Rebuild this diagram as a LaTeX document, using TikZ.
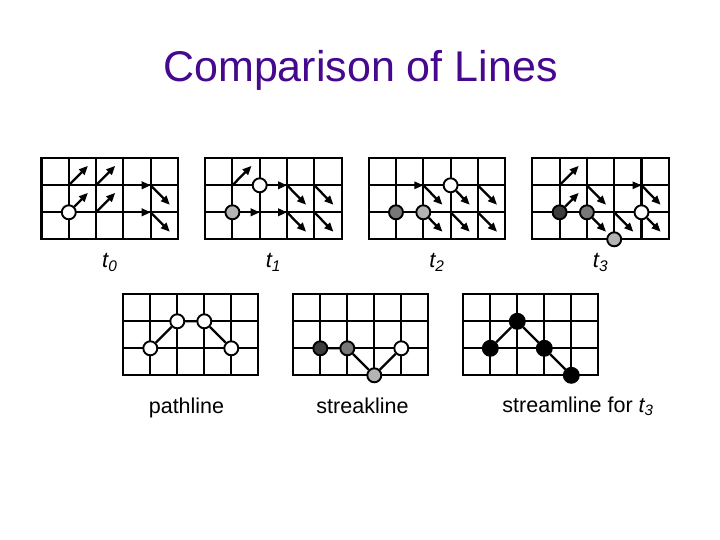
\documentclass[tikz,border=0pt]{standalone}
\usepackage{fontspec}
\setmainfont{Liberation Sans}
\usepackage{tikz}
\usetikzlibrary{arrows.meta}
\definecolor{slidepurple}{HTML}{46088E}
\definecolor{agefresh}{HTML}{3C3C3C}
\definecolor{agemid}{HTML}{787878}
\definecolor{ageold}{HTML}{B4B4B4}
\tikzset{
  cellgrid/.style={line width=2.1pt, black, line cap=rect},
  vel/.style={-{Triangle[length=9pt, width=7.5pt]}, line width=2.3pt, black},
  thinvel/.style={vel, line width=1.4pt},
  particle/.style={circle, draw=black, line width=1.9pt, minimum size=14pt, inner sep=0pt},
  trace/.style={line width=2.3pt, black},
  steplabel/.style={font=\fontsize{22}{26}\selectfont\itshape, anchor=base},
  caption/.style={font=\fontsize{21.5}{26}\selectfont, anchor=base},
}

\begin{document}
\begin{tikzpicture}[x=1pt, y=-1pt]
\useasboundingbox[fill=white] (0,0) rectangle (720,540);
\node[font=\fontsize{43}{50}\selectfont, text=slidepurple, anchor=base] (title) at (360.5,82) {Comparison of Lines};

% velocity fields t0 .. t3
\foreach \gx/\k in {41.5/0, 205.1/1, 368.7/2, 532.3/3} {
  \begin{scope}[shift={(\gx,158.3)}, x=27.3pt, y=-27pt]
    \draw[cellgrid] (0,0) rectangle (5,3);
    \foreach \i in {1,...,4} \draw[cellgrid] (\i,0) -- (\i,3);
    \foreach \j in {1,2} \draw[cellgrid] (0,\j) -- (5,\j);
    \node[steplabel] (lbl\k) at (2.5,4.05) {t\textsubscript{\k}};
  \end{scope}
}

\begin{scope}[shift={(41.5,158.3)}, x=27.3pt, y=-27pt]
  \node[particle, fill=white] (tzeroA) at (1,2) {};
  \foreach \i/\j in {1/1, 2/1, 2/2} \draw[vel] (\i,\j) -- ++(0.7,-0.72);
  \draw[vel] (tzeroA) -- ++(0.7,-0.72);
  \foreach \j in {1,2} {
    \draw[vel] (3,\j) -- (4,\j);
    \draw[vel] (4,\j) -- ++(0.7,0.72);
  }
\end{scope}

\begin{scope}[shift={(205.1,158.3)}, x=27.3pt, y=-27pt]
  \node[particle, fill=white] (toneA) at (2,1) {};
  \node[particle, fill=ageold] (toneB) at (1,2) {};
  \draw[vel] (1,1) -- ++(0.7,-0.72);
  \draw[vel] (toneA) -- (3,1);
  \draw[vel] (toneB) -- (2,2);
  \draw[vel] (2,2) -- (3,2);
  \foreach \i/\j in {3/1, 4/1, 3/2, 4/2} \draw[vel] (\i,\j) -- ++(0.7,0.72);
\end{scope}

\begin{scope}[shift={(368.7,158.3)}, x=27.3pt, y=-27pt]
  \node[particle, fill=white] (ttwoA) at (3,1) {};
  \node[particle, fill=ageold] (ttwoB) at (2,2) {};
  \node[particle, fill=agemid] (ttwoC) at (1,2) {};
  \draw[trace] (ttwoC) -- (ttwoB);
  \draw[thinvel] (1,1) -- (2,1);
  \foreach \i/\j in {2/1, 4/1, 3/2, 4/2} \draw[vel] (\i,\j) -- ++(0.7,0.72);
  \draw[vel] (ttwoA) -- ++(0.7,0.72);
  \draw[vel] (ttwoB) -- ++(0.7,0.72);
\end{scope}

\begin{scope}[shift={(532.3,158.3)}, x=27.3pt, y=-27pt]
  \node[particle, fill=white] (tthreeA) at (4,2) {};
  \node[particle, fill=ageold] (tthreeB) at (3,3) {};
  \node[particle, fill=agemid] (tthreeC) at (2,2) {};
  \node[particle, fill=agefresh] (tthreeD) at (1,2) {};
  \draw[vel] (1,1) -- ++(0.7,-0.72);
  \draw[vel] (tthreeD) -- ++(0.7,-0.72);
  \draw[thinvel] (3,1) -- (4,1);
  \foreach \i/\j in {2/1, 4/1, 3/2} \draw[vel] (\i,\j) -- ++(0.7,0.72);
  \draw[vel] (tthreeC) -- ++(0.7,0.72);
  \draw[vel] (tthreeA) -- ++(0.7,0.72);
\end{scope}

% resulting lines
\foreach \gx/\k in {123.3/path, 293.3/streak, 463.3/stream} {
  \begin{scope}[shift={(\gx,294.3)}, x=27pt, y=-27pt]
    \draw[cellgrid] (0,0) rectangle (5,3);
    \foreach \i in {1,...,4} \draw[cellgrid] (\i,0) -- (\i,3);
    \foreach \j in {1,2} \draw[cellgrid] (0,\j) -- (5,\j);
  \end{scope}
}

\begin{scope}[shift={(123.3,294.3)}, x=27pt, y=-27pt]
  \foreach \n/\p in {1/{1,2}, 2/{2,1}, 3/{3,1}, 4/{4,2}}
    \node[particle, fill=white] (path\n) at (\p) {};
  \draw[trace] (path1) -- (path2) -- (path3) -- (path4);
\end{scope}

\begin{scope}[shift={(293.3,294.3)}, x=27pt, y=-27pt]
  \node[particle, fill=agefresh] (streak1) at (1,2) {};
  \node[particle, fill=agemid] (streak2) at (2,2) {};
  \node[particle, fill=ageold] (streak3) at (3,3) {};
  \node[particle, fill=white] (streak4) at (4,2) {};
  \draw[trace] (streak1) -- (streak2) -- (streak3) -- (streak4);
\end{scope}

\begin{scope}[shift={(463.3,294.3)}, x=27pt, y=-27pt]
  \foreach \n/\p in {1/{1,2}, 2/{2,1}, 3/{3,2}, 4/{4,3}}
    \node[particle, fill=black, minimum size=15pt] (stream\n) at (\p) {};
  \draw[trace] (stream1) -- (stream2) -- (stream3) -- (stream4);
\end{scope}

\node[caption] (pathcap) at (186.5,413) {pathline};
\node[caption] (streakcap) at (362.5,413) {streakline};
\node[caption] (streamcap) at (578,412) {streamline for {\itshape t\textsubscript{3}}};
\end{tikzpicture}
\end{document}
